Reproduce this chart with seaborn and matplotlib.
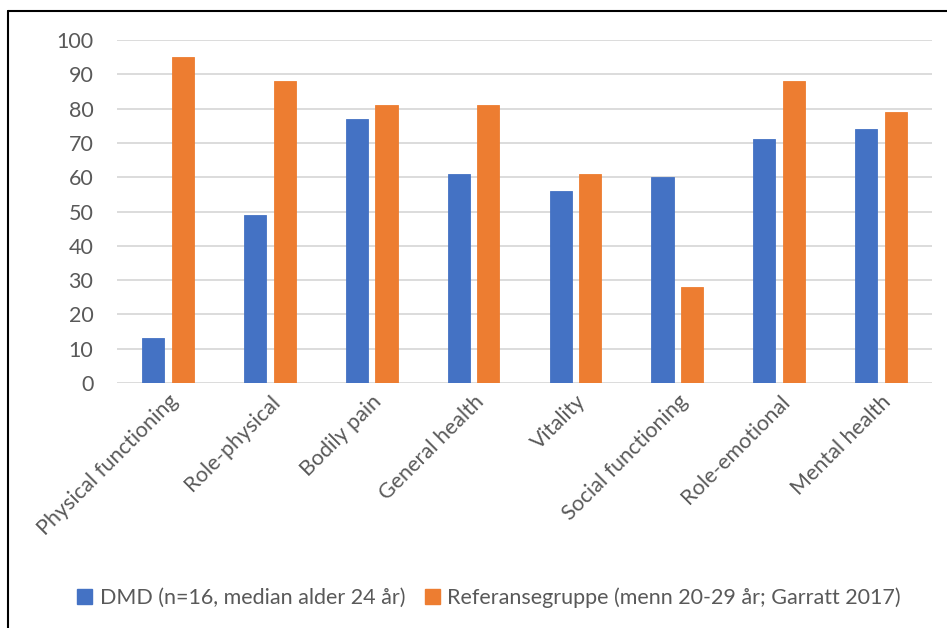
import matplotlib
matplotlib.use("Agg")
import matplotlib.pyplot as plt
from matplotlib.lines import Line2D
from matplotlib.patches import Patch
import seaborn as sns
import pandas as pd

categories = ["Physical functioning", "Role-physical", "Bodily pain", "General health",
              "Vitality", "Social functioning", "Role-emotional", "Mental health"]
dmd_values = [13, 49, 77, 61, 56, 60, 71, 74]
ref_values = [95, 88, 81, 81, 61, 28, 88, 79]
series_names = ["DMD (n=16, median alder 24 år)",
                "Referansegruppe (menn 20-29 år; Garratt 2017)"]
y_ticks = [0, 10, 20, 30, 40, 50, 60, 70, 80, 90, 100]

colors = ["#4472C4", "#ED7D31"]
text_color = "#595959"
fs = 15.5

df = pd.DataFrame({
    "category": categories * 2,
    "value": dmd_values + ref_values,
    "series": [series_names[0]] * len(categories) + [series_names[1]] * len(categories),
})

sns.set_theme(style="white")
plt.rcParams["font.family"] = ["Lato", "DejaVu Sans"]

fig = plt.figure(figsize=(9.47, 6.28), dpi=100)
ax = fig.add_axes([117 / 947, 1 - 383 / 628, (932 - 117) / 947, (383 - 40) / 628])

sns.barplot(data=df, x="category", y="value", hue="series", order=categories,
            hue_order=series_names, palette=colors, width=0.58, gap=0.25,
            ax=ax, legend=False, saturation=1, zorder=3)

for bar, c in zip(ax.patches, [colors[0]] * 8 + [colors[1]] * 8):
    bar.set_edgecolor(c)
    bar.set_linewidth(0.6)

ax.set_ylim(0, 100)
ax.set_xlim(-0.5, len(categories) - 0.5)
ax.set_yticks(y_ticks)
ax.yaxis.grid(True, color="#D9D9D9", linewidth=1.3, zorder=0)
ax.set_axisbelow(True)
for s in ax.spines.values():
    s.set_visible(False)
ax.set_xlabel("")
ax.set_ylabel("")
ax.tick_params(axis="y", length=0, pad=17, labelsize=fs, labelcolor=text_color)
ax.tick_params(axis="x", length=0, pad=6, labelsize=fs, labelcolor=text_color)
ax.set_xticks(range(len(categories)))
ax.set_xticklabels(categories, rotation=45, ha="right", rotation_mode="anchor")

handles = [Patch(facecolor=c, edgecolor=c) for c in colors]
fig.legend(handles, series_names, loc="center", bbox_to_anchor=(489 / 947, 1 - 598 / 628),
           ncol=2, frameon=False, fontsize=fs, labelcolor=text_color,
           handlelength=0.7, handleheight=0.7, handletextpad=0.35, columnspacing=0.9)

# chart frame edges along the top and left
fig.add_artist(Line2D([8 / 947, 8 / 947], [0, 1 - 11 / 628], transform=fig.transFigure,
                      color="black", linewidth=1.5))
fig.add_artist(Line2D([8 / 947, 1], [1 - 11 / 628, 1 - 11 / 628], transform=fig.transFigure,
                      color="black", linewidth=1.5))

fig.savefig("out.png", dpi=100)
